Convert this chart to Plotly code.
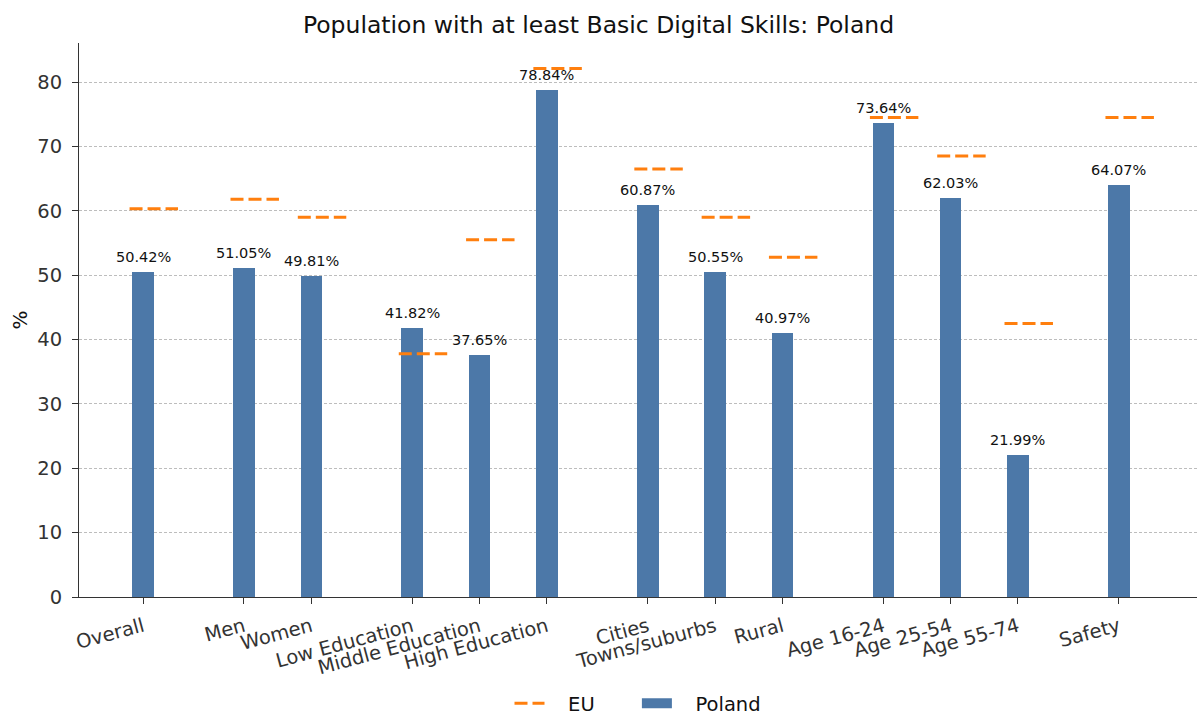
import plotly.graph_objects as go

categories = ["Overall", "Men", "Women", "Low Education", "Middle Education", "High Education",
              "Cities", "Towns/suburbs", "Rural", "Age 16-24", "Age 25-54", "Age 55-74", "Safety"]
positions = [0, 1.5, 2.5, 4, 5, 6, 7.5, 8.5, 9.5, 11, 12, 13, 14.5]
poland = [50.42, 51.05, 49.81, 41.82, 37.65, 78.84, 60.87, 50.55, 40.97, 73.64, 62.03, 21.99, 64.07]
eu = [60.3, 61.8, 59.0, 37.8, 55.5, 82.1, 66.5, 59.0, 52.8, 74.5, 68.5, 42.5, 74.5]
y_ticks = [0, 10, 20, 30, 40, 50, 60, 70, 80]

BAR_W = 0.32
BLUE = "#4C78A8"
ORANGE = "#FF7F0E"
FONT = "DejaVu Sans"
NB = "\u00a0"

# EU dashed segments around each category position
ex, ey = [], []
for p, v in zip(positions, eu):
    ex += [p - 0.2, p + 0.52, None]
    ey += [v, v, None]

fig = go.Figure()
fig.add_trace(go.Scatter(x=ex, y=ey, mode="lines", name=NB * 3 + "EU" + NB * 6,
                         line=dict(color=ORANGE, width=3, dash="13px,5px"),
                         hoverinfo="skip"))
fig.add_trace(go.Bar(x=positions, y=poland, width=BAR_W, name="Poland", showlegend=False,
                     marker=dict(color=BLUE, line=dict(width=0))))
# legend entry for Poland drawn as a wide patch
fig.add_trace(go.Scatter(x=[None], y=[None], mode="lines", name=NB * 3 + "Poland",
                         line=dict(color=BLUE, width=13)))

for p, v in zip(positions, poland):
    fig.add_annotation(x=p, y=v, text=f"{v:.2f}%", showarrow=False,
                       yanchor="bottom", yshift=5,
                       font=dict(family=FONT, size=14.5, color="#111"))

fig.update_layout(
    width=1197, height=715,
    margin=dict(l=79, r=0, t=43, b=118),
    plot_bgcolor="white", paper_bgcolor="white",
    font=dict(family=FONT, color="#222"),
    title=dict(text="Population with at least Basic Digital Skills: Poland",
               x=0.5, xanchor="center", y=0.965, yanchor="middle",
               font=dict(family=FONT, size=23.5, color="#111")),
    showlegend=True,
    legend=dict(orientation="h", x=0.5, xanchor="center", yref="container",
                y=0.016, yanchor="middle",
                font=dict(family=FONT, size=19.5, color="#111"), traceorder="normal"),
    bargap=0,
)
fig.update_xaxes(range=[-0.951, 15.66], tickmode="array", tickvals=positions,
                 ticktext=categories, tickangle=-15,
                 tickfont=dict(family=FONT, size=19.5, color="#333"),
                 showline=True, linecolor="#333", linewidth=1,
                 ticks="outside", ticklen=6, tickcolor="#333", ticklabelstandoff=4,
                 showgrid=False, zeroline=False, automargin=False)
fig.update_yaxes(range=[0, 86.07], tickmode="array", tickvals=y_ticks,
                 tickfont=dict(family=FONT, size=19.5, color="#333"),
                 title=dict(text="%", font=dict(family=FONT, size=20, color="#111"), standoff=4),
                 showline=True, linecolor="#333", linewidth=1,
                 ticks="outside", ticklen=6, tickcolor="#333", ticklabelstandoff=6,
                 showgrid=True, gridcolor="#bdbdbd", gridwidth=0.8, griddash="3px,2px",
                 zeroline=False, automargin=False)

fig.write_html("out.html", config={"displayModeBar": False},
               post_script="document.body.style.margin='0px';")
